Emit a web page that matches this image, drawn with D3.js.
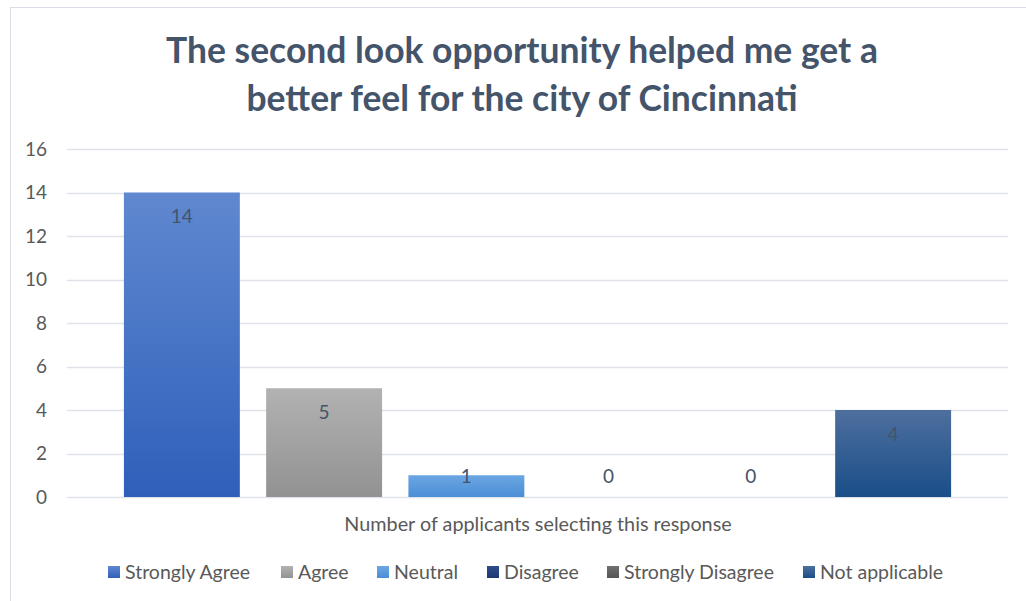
<!DOCTYPE html>
<html>
<head>
<meta charset="utf-8">
<script src="https://cdn.jsdelivr.net/npm/d3@7"></script>
<style>
  html, body { margin: 0; padding: 0; background: #fff; }
  svg { display: block; }
  text { font-family: Lato, "Open Sans", "Noto Sans", sans-serif; }
</style>
</head>
<body>
<svg id="chart" width="1026" height="601"></svg>
<script>
// ---- data ----
const titleLines = ["The second look opportunity helped me get a", "better feel for the city of Cincinnati"];
const categoryLabel = "Number of applicants selecting this response";
const seriesNames = ["Strongly Agree", "Agree", "Neutral", "Disagree", "Strongly Disagree", "Not applicable"];
const seriesValues = [14, 5, 1, 0, 0, 4];
const yTicks = [0, 2, 4, 6, 8, 10, 12, 14, 16];
const colorTop = ["#6088d0", "#b2b2b2", "#6ba6e3", "#2d4d8e", "#707070", "#4e6f9e"];
const colorBottom = ["#2e60ba", "#929292", "#4a8ed6", "#1d3870", "#555555", "#194e88"];

const svg = d3.select("#chart");

// border of chart area
svg.append("rect").attr("x", 10.5).attr("y", 7.5).attr("width", 1030).attr("height", 620)
  .attr("fill", "#fff").attr("stroke", "#d9dde6").attr("stroke-width", 1);

// gradients
const defs = svg.append("defs");
seriesNames.forEach((n, i) => {
  const g = defs.append("linearGradient").attr("id", "grad" + i)
    .attr("x1", 0).attr("y1", 0).attr("x2", 0).attr("y2", 1);
  g.append("stop").attr("offset", "0%").attr("stop-color", colorTop[i]);
  g.append("stop").attr("offset", "100%").attr("stop-color", colorBottom[i]);
});

// scales
const plotLeft = 67, plotRight = 1008;
const y = d3.scaleLinear().domain([0, 16]).range([497, 149]);
const x = d3.scaleBand().domain(seriesNames).range([plotLeft, plotRight])
  .paddingInner(0.185).paddingOuter(0.40);

// gridlines
svg.append("g").selectAll("line").data(yTicks).join("line")
  .attr("x1", plotLeft).attr("x2", plotRight)
  .attr("y1", d => Math.round(y(d)) + 0.5).attr("y2", d => Math.round(y(d)) + 0.5)
  .attr("stroke", "#dfe2e8").attr("stroke-width", 1.5);

// y axis labels via d3 axis
const yAxis = d3.axisLeft(y).tickValues(yTicks).tickSize(0).tickPadding(0);
const ga = svg.append("g").attr("transform", "translate(47,0)").call(yAxis);
ga.select(".domain").remove();
ga.selectAll("text").attr("fill", "#595959").style("font-size", "19px")
  .style("font-family", "Lato, 'Open Sans', sans-serif");

// bars
const data = seriesNames.map((n, i) => ({ name: n, value: seriesValues[i], i }));
svg.append("g").selectAll("rect").data(data.filter(d => d.value > 0)).join("rect")
  .attr("x", d => x(d.name)).attr("width", x.bandwidth())
  .attr("y", d => y(d.value)).attr("height", d => y(0) - y(d.value))
  .attr("fill", d => `url(#grad${d.i})`);

// data labels
svg.append("g").selectAll("text").data(data).join("text")
  .attr("x", d => x(d.name) + x.bandwidth() / 2)
  .attr("y", d => Math.min(y(d.value) + 24, y(0) - 21))
  .attr("dy", "0.35em")
  .attr("text-anchor", "middle")
  .attr("fill", "#44546a")
  .style("font-size", "19px")
  .text(d => d.value);

// category label
svg.append("text").attr("x", 538).attr("y", 524).attr("dy", "0.35em")
  .attr("text-anchor", "middle").attr("fill", "#595959").style("font-size", "19.8px")
  .text(categoryLabel);

// title
const titleY = [51, 99];
const t0 = svg.append("text").attr("x", 522).attr("y", titleY[0]).attr("dy", "0.35em")
  .attr("text-anchor", "middle").attr("fill", "#44546a")
  .style("font-size", "30px").style("font-weight", "bold").text(titleLines[0]);
const fs = 30 * 712 / t0.node().getComputedTextLength();
t0.style("font-size", fs + "px");
svg.append("text").attr("x", 522).attr("y", titleY[1]).attr("dy", "0.35em")
  .attr("text-anchor", "middle").attr("fill", "#44546a")
  .style("font-size", fs + "px").style("font-weight", "bold").text(titleLines[1]);

// legend
const legendSquareX = [108, 281, 377, 487, 607, 803];
const lg = svg.append("g");
data.forEach((d, i) => {
  lg.append("rect").attr("x", legendSquareX[i]).attr("y", 566).attr("width", 12).attr("height", 12)
    .attr("fill", `url(#grad${i})`);
  lg.append("text").attr("x", legendSquareX[i] + 17).attr("y", 572).attr("dy", "0.35em")
    .attr("fill", "#595959").style("font-size", "19.5px").text(d.name);
});
</script>
</body>
</html>
